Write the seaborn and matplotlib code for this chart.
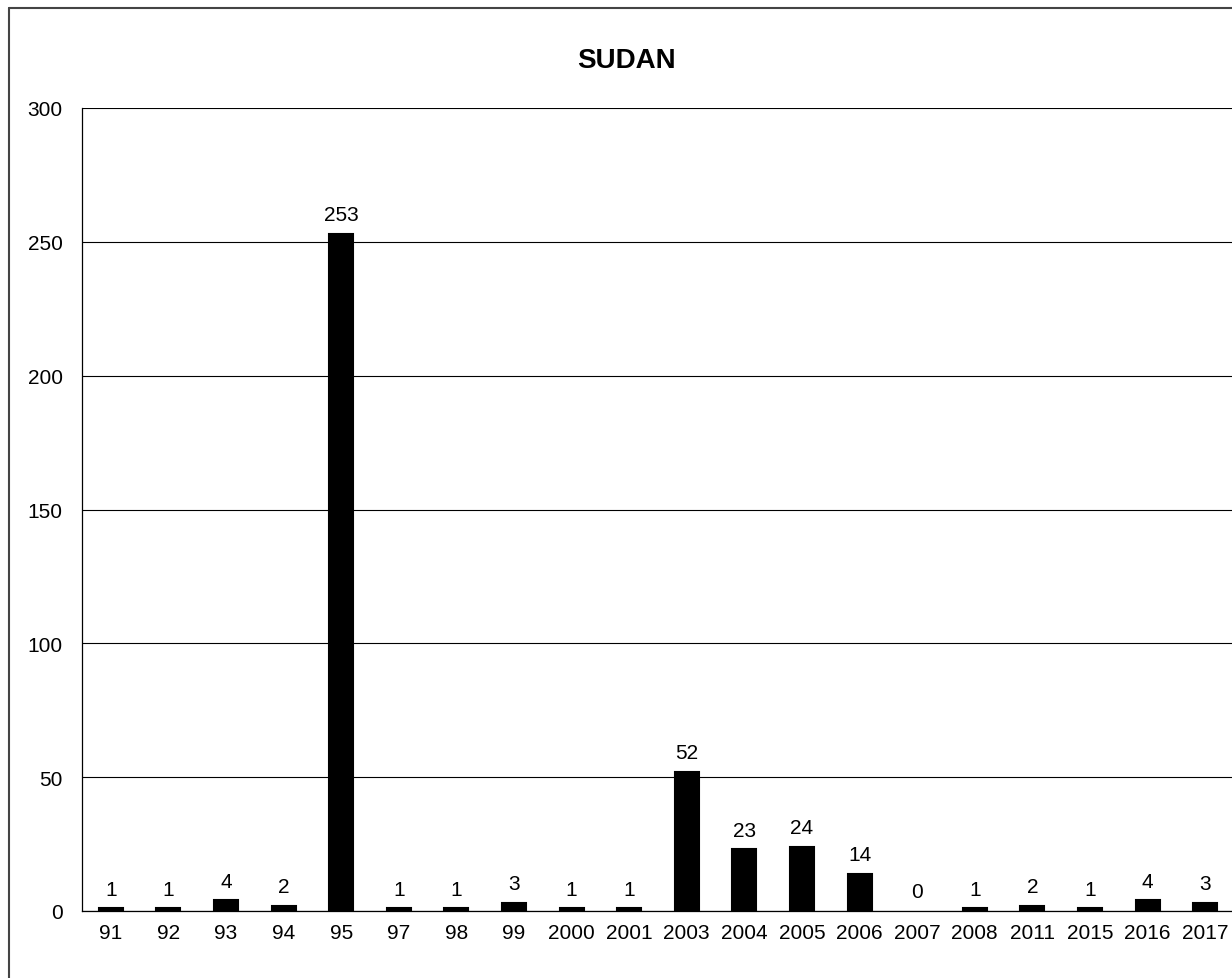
import matplotlib
matplotlib.use("Agg")
import matplotlib.pyplot as plt
import seaborn as sns
import pandas as pd
from matplotlib.lines import Line2D

years = ["91", "92", "93", "94", "95", "97", "98", "99", "2000", "2001",
         "2003", "2004", "2005", "2006", "2007", "2008", "2011", "2015", "2016", "2017"]
values = [1, 1, 4, 2, 253, 1, 1, 3, 1, 1, 52, 23, 24, 14, 0, 1, 2, 1, 4, 3]
title = "SUDAN"
y_ticks = [0, 50, 100, 150, 200, 250, 300]

sns.set_style("white")
plt.rcParams['font.family'] = ['Liberation Sans', 'DejaVu Sans']
plt.rcParams['text.color'] = 'black'
plt.rcParams['xtick.color'] = 'black'
plt.rcParams['ytick.color'] = 'black'

W, H = 1232, 979
fig = plt.figure(figsize=(W / 100, H / 100), dpi=100)
ax = fig.add_axes([82 / W, 1 - 912 / H, 1152 / W, (912 - 109) / H])

df = pd.DataFrame({"year": years, "value": values})
sns.barplot(data=df, x="year", y="value", order=years, color="black",
            saturation=1, width=0.42, ax=ax, zorder=3,
            edgecolor="black", linewidth=1.5)

# no outline on zero-height bars
for p in ax.patches:
    if p.get_height() == 0:
        p.set_linewidth(0)

ax.set_ylim(0, 300)
ax.set_xlim(-0.5, len(years) - 0.5)
ax.set_yticks(y_ticks)
ax.set_xlabel("")
ax.set_ylabel("")
ax.yaxis.grid(True, color="black", linewidth=0.8, zorder=0)
ax.set_axisbelow(True)

for c in ax.containers:
    ax.bar_label(c, labels=[str(v) for v in values], padding=7, fontsize=15, color="black")

ax.tick_params(axis="x", which="major", length=0, labelsize=15, pad=9, labelcolor="black")
ax.set_xticks([i - 0.5 for i in range(len(years) + 1)], minor=True)
ax.tick_params(axis="x", which="minor", length=4.5, width=0.8, direction="out", color="black")
ax.tick_params(axis="y", length=5, width=0.8, direction="out", labelsize=15, pad=9,
               color="#666666", labelcolor="black")

for s in ["top", "right"]:
    ax.spines[s].set_visible(False)
for s in ["left", "bottom"]:
    ax.spines[s].set_color("black")
    ax.spines[s].set_linewidth(0.9)

fig.text(626 / W, 1 - 61 / H, title, ha="center", va="center",
         fontsize=20, fontweight="bold", color="black")

# outer chart border (partially cropped)
fig.add_artist(Line2D([9 / W, 1], [1 - 8.5 / H, 1 - 8.5 / H], transform=fig.transFigure,
                      color="#444444", linewidth=1.5))
fig.add_artist(Line2D([9 / W, 9 / W], [0, 1 - 8.5 / H], transform=fig.transFigure,
                      color="#444444", linewidth=1.5))

fig.savefig("out.png", dpi=100)
